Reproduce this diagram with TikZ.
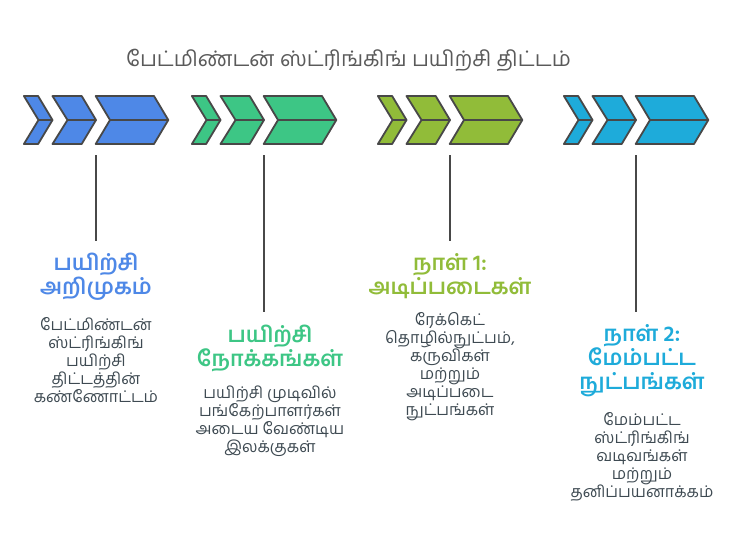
\documentclass[tikz,border=0pt]{standalone}
\usepackage{fontspec}
\setmainfont{Liberation Sans}
\newfontfamily\tamil[Script=Tamil]{Hind Madurai}
\newfontfamily\tamilb[Script=Tamil]{Hind Madurai SemiBold}
\definecolor{cblue}{HTML}{4E88E7}
\definecolor{cgreen}{HTML}{3DC685}
\definecolor{colive}{HTML}{91BC39}
\definecolor{ccyan}{HTML}{1EABDA}
\definecolor{edge}{HTML}{484848}
\definecolor{ink}{HTML}{3E4A52}
\tikzset{
  chev/.style={draw=edge,line width=1.8pt,line join=round},
  lead/.style={draw=edge,line width=2pt},
  ttl/.style={font=\tamil\fontsize{21.4}{24}\selectfont,text=edge!90,inner sep=0pt},
  head/.style={font=\tamilb\fontsize{21.8}{24}\selectfont,align=center,inner sep=0pt},
  body/.style={font=\tamil\fontsize{16.1}{18}\selectfont,text=ink,align=center,inner sep=0pt},
}
\newcommand{\chevgroup}[2]{%
  \begin{scope}[xshift=#1pt]
    \draw[chev,fill=#2] (0.4,96)--(14.6,96)--(29,120)--(14.6,144)--(0.4,144)--(15,120)--cycle;
    \draw[chev] (15,120)--(29,120);
    \draw[chev,fill=#2] (29,96)--(58.2,96)--(72.5,120)--(58.2,144)--(29,144)--(44,120)--cycle;
    \draw[chev] (44,120)--(72.5,120);
    \draw[chev,fill=#2] (72.2,96)--(130.5,96)--(144.8,120)--(130.5,144)--(72.2,144)--(86.5,120)--cycle;
    \draw[chev] (86.5,120)--(144.8,120);
  \end{scope}}
\begin{document}
\begin{tikzpicture}[x=1pt,y=-1pt]
\useasboundingbox (0,0) rectangle (744,552);
\fill[white] (0,0) rectangle (744,552);
\node[ttl] (title) at (348.5,60.5) {பேட்மிண்டன் ஸ்ட்ரிங்கிங் பயிற்சி திட்டம்};
\chevgroup{23.5}{cblue}
\chevgroup{191.5}{cgreen}
\chevgroup{377.5}{colive}
\chevgroup{563.5}{ccyan}
\coordinate (a1) at (96,155);\coordinate (a2) at (96,241);
\coordinate (b1) at (264,155);\coordinate (b2) at (264,312);
\coordinate (c1) at (450,155);\coordinate (c2) at (450,241);
\coordinate (d1) at (636,155);\coordinate (d2) at (636,312);
\draw[lead] (a1)--(a2);
\draw[lead] (b1)--(b2);
\draw[lead] (c1)--(c2);
\draw[lead] (d1)--(d2);
\node[head,text=cblue] (h1) at (96,276.5) {பயிற்சி\\அறிமுகம்};
\node[body] (t1) at (96,360) {பேட்மிண்டன்\\ஸ்ட்ரிங்கிங்\\பயிற்சி\\திட்டத்தின்\\கண்ணோட்டம்};
\node[head,text=cgreen] (h2) at (270,348.5) {பயிற்சி\\நோக்கங்கள்};
\node[body] (t2) at (270,421) {பயிற்சி முடிவில்\\பங்கேற்பாளர்கள்\\அடைய வேண்டிய\\இலக்குகள்};
\node[head,text=colive] (h3) at (450,276.5) {நாள் 1:\\அடிப்படைகள்};
\node[body] (t3) at (450,367) {ரேக்கெட்\\தொழில்நுட்பம்,\\கருவிகள்\\மற்றும்\\அடிப்படை\\நுட்பங்கள்};
\node[head,text=ccyan] (h4) at (642,360.5) {நாள் 2:\\மேம்பட்ட\\நுட்பங்கள்};
\node[body] (t4) at (642,457) {மேம்பட்ட\\ஸ்ட்ரிங்கிங்\\வடிவங்கள்\\மற்றும்\\தனிப்பயனாக்கம்};
\end{tikzpicture}
\end{document}
